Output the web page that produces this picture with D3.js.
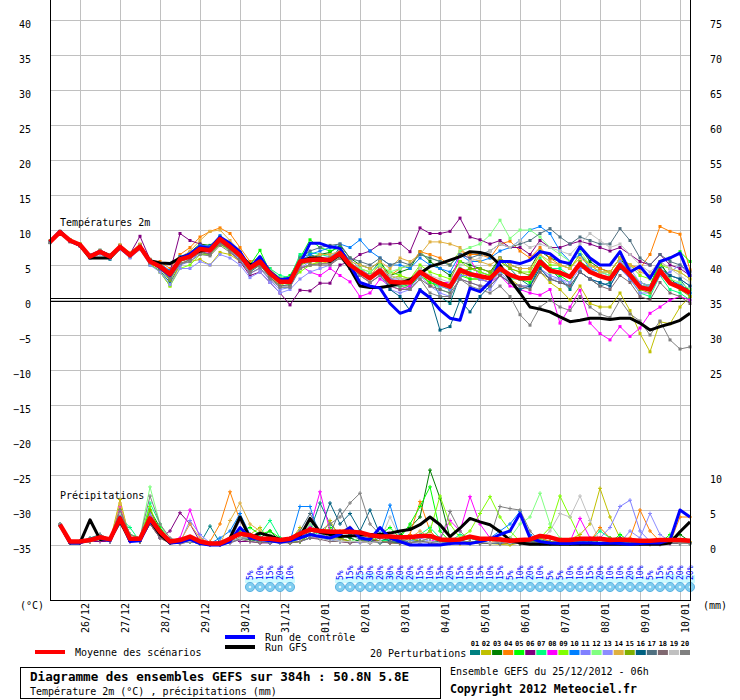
<!DOCTYPE html>
<html>
<head>
<meta charset="utf-8">
<script src="https://cdn.jsdelivr.net/npm/d3@7"></script>
<style>
  body { margin: 0; background: #fff; }
  svg text { font-family: "DejaVu Sans Mono", monospace; }
</style>
</head>
<body>
<div id="chart"></div>
<script>
// time steps every 6h from 25/12 06h to +384h (65 steps), precip starts at step 1
const dates = ['26/12','27/12','28/12','29/12','30/12','31/12','01/01','02/01','03/01','04/01','05/01','06/01','07/01','08/01','09/01','10/01'];
const dateSteps = [3,7,11,15,19,23,27,31,35,39,43,47,51,55,59,63];

const leftTicks = [40,35,30,25,20,15,10,5,0,-5,-10,-15,-20,-25,-30,-35];
const rightTempTicks = [40,35,30,25,20,15,10,5,0,-5,-10];
const rightLabels = ['75','70','65','60','55','50','45','40','35','30','25'];
const precipTicks = [10,5,0];

const pertNames = ['01','02','03','04','05','06','07','08','09','10','11','12','13','14','15','16','17','18','19','20'];
const pertColors = ['#008080','#c0c000','#008000','#ff8000','#00ff00','#800080','#00ff80','#ff00ff','#80ff00','#0080ff',
                    '#8080ff','#80ff80','#8c8cff','#e0b040','#80b000','#006080','#507080','#806870','#c0c0c0','#808080'];

// temperature 2m (°C)
const meanTemp = [8.3,9.7,8.5,7.9,6.2,6.9,6.2,7.6,6.4,7.6,
  5.5,4.8,3.7,5.8,6.2,7.3,7.1,8.7,7.6,6.4,
  4.6,5.5,3.8,2.6,2.6,5.5,5.7,5.8,5.7,6.7,
  5.0,4.0,3.1,4.2,2.6,2.5,2.5,4.0,3.1,2.4,
  1.9,4.3,3.7,3.4,3.1,4.5,3.6,3.1,3.1,5.5,
  4.2,3.9,3.3,5.2,4.0,3.4,3.0,5.0,3.6,1.8,
  1.5,4.2,2.4,1.8,1.0];
const ctrlTemp = [8.3,9.8,8.4,7.8,6.3,7.0,6.3,7.5,6.3,7.7,
  5.6,4.6,3.5,5.9,6.6,7.6,7.4,9.0,8.1,6.9,
  4.6,6.2,4.0,2.9,3.1,5.2,8.1,8.1,7.6,7.4,
  5.0,2.5,2.0,1.7,-0.5,-1.9,-1.4,1.4,0.3,-1.4,
  -2.6,-2.9,1.7,1.2,2.6,5.5,5.5,5.2,5.7,6.9,
  6.6,5.5,5.2,7.6,6.0,5.0,5.0,6.9,4.0,4.8,
  3.1,5.5,6.0,6.7,3.3];
const gfsTemp = [8.3,9.8,8.5,7.8,6.0,6.0,6.0,7.5,6.5,7.6,
  5.6,5.3,5.2,6.0,6.5,7.0,7.2,8.8,7.8,6.5,
  5.0,5.5,4.0,2.8,2.5,5.5,6.0,6.0,5.5,6.5,
  4.5,2.0,1.8,1.8,2.0,2.4,2.9,3.8,4.8,5.2,
  5.7,6.2,6.9,6.8,6.4,5.0,2.9,1.0,-1.0,-1.3,
  -1.7,-2.4,-3.1,-2.9,-2.6,-2.6,-2.8,-2.6,-2.6,-3.3,
  -4.3,-3.8,-3.4,-2.9,-1.9];

const t01 = [8.3,9.6,8.4,7.7,6.0,6.6,5.8,7.3,6.1,7.5, 5.0,4.2,2.5,5.0,5.8,7.0,6.5,8.4,7.2,6.0, 4.0,5.0,3.2,2.0,2.2,6.2,6.5,6.0,5.8,7.5, 5.5,3.5,3.8,5.5,3.0,2.5,1.8,3.8,3.5,0.5, -0.5,3.5,4.5,4.0,3.5,6.0,4.5,3.0,2.0,5.0, 4.5,3.0,1.5,4.0,3.0,2.0,2.5,5.5,4.0,2.0, 2.0,5.0,3.5,3.0,1.0];
const t02 = [8.2,9.5,8.3,7.8,6.3,7.0,6.4,7.8,6.6,7.9, 5.2,4.0,2.0,5.2,5.5,5.8,5.0,6.8,6.5,5.5, 4.2,5.0,3.5,2.0,2.8,4.5,5.0,5.2,5.5,6.0, 4.8,4.5,3.5,4.0,3.0,3.5,3.0,4.5,2.0,2.5, 2.0,4.0,3.0,3.0,2.5,4.5,3.0,2.0,2.0,4.0, 2.5,1.5,0.0,2.0,-0.5,-1.0,-1.0,1.0,-1.5,-4.8, -7.4,-3.1,-3.4,-1.0,0.5];
const t03 = [8.4,9.8,8.6,8.0,6.4,7.1,6.5,7.8,6.7,7.9, 5.8,5.0,3.0,5.9,6.8,8.0,7.8,9.0,7.5,6.3, 4.5,5.2,3.5,2.5,2.4,5.0,6.0,6.5,6.8,7.8, 6.0,5.0,4.5,5.5,3.5,4.0,4.5,6.9,5.5,4.5, 3.5,5.5,5.0,4.5,4.0,6.0,5.0,4.5,4.5,7.0, 6.0,5.5,5.0,7.5,5.5,4.5,4.0,6.0,4.0,2.5, 2.0,5.5,3.0,2.0,1.5];
const t04 = [8.3,9.7,8.5,7.9,6.3,7.0,6.3,7.7,6.5,7.8, 5.6,5.5,4.5,6.5,7.5,9.0,9.8,10.3,9.5,7.5, 5.5,6.0,4.5,3.0,3.0,4.5,5.0,5.5,6.0,6.5, 5.5,4.0,3.5,5.0,3.5,4.5,5.0,6.9,6.5,6.0, 5.0,7.0,6.5,6.5,6.0,8.0,8.4,7.0,6.0,7.5, 6.0,5.0,4.5,6.5,5.0,4.5,4.0,6.0,5.0,4.5, 6.5,10.5,9.8,9.4,4.3];
const t05 = [8.3,9.7,8.4,7.8,6.2,6.8,6.2,7.5,6.3,7.6, 5.3,4.5,3.0,5.5,6.0,7.0,7.0,8.5,7.5,6.5, 5.0,7.1,4.0,3.0,3.5,6.0,8.6,7.5,7.0,7.5, 5.5,4.0,3.5,4.0,2.5,2.0,2.0,3.5,2.5,2.0, 1.5,3.5,3.0,3.0,2.5,4.0,3.5,3.0,2.5,5.0, 4.0,3.5,2.5,5.5,4.5,3.5,3.0,5.0,4.0,2.5, 2.0,5.5,6.0,6.9,5.5];
const t06 = [8.3,9.8,8.5,7.9,6.2,6.9,6.2,7.8,6.6,9.1, 5.8,5.0,4.0,9.5,8.5,8.0,7.5,8.5,7.0,5.5, 3.5,4.0,2.5,1.0,-0.7,1.4,1.3,2.4,2.4,5.0, 5.5,6.5,7.0,8.0,8.0,8.1,6.9,10.3,9.5,9.5, 9.8,11.7,9.0,8.6,8.0,8.5,7.5,7.5,6.5,8.5, 7.5,7.5,8.0,8.4,8.0,7.5,7.0,7.5,6.5,5.5, 5.0,6.5,5.0,4.5,3.5];
const t07 = [8.4,9.6,8.5,7.9,6.3,7.0,6.2,7.4,6.3,7.6, 5.4,5.0,4.0,6.0,6.2,7.5,7.4,8.9,7.8,6.8, 5.0,5.8,4.5,3.5,3.2,6.5,6.8,6.5,6.2,7.0, 5.2,4.2,3.0,4.5,2.0,2.0,2.5,4.5,3.0,1.5, 1.0,4.5,4.0,3.5,3.0,4.5,3.0,3.0,3.5,6.0, 4.5,4.5,3.5,5.0,4.0,3.5,3.0,5.5,3.0,1.0, 0.5,3.5,1.5,1.0,0.0];
const t08 = [8.3,9.7,8.5,7.8,6.2,6.9,6.3,7.6,6.4,7.6, 5.5,4.8,3.5,5.5,6.0,7.0,6.8,8.5,7.5,6.5, 4.5,5.5,4.0,2.8,2.5,5.0,4.0,3.5,4.5,3.5, 2.6,0.5,1.0,3.0,2.0,1.5,2.0,4.0,3.0,2.5, 2.5,6.5,6.0,3.0,2.5,3.5,2.0,1.5,1.0,0.7, 1.5,-3.3,-1.0,1.4,-3.3,-4.8,-5.7,-3.8,-5.2,-4.0, -1.9,-1.0,0.0,0.5,0.0];
const t09 = [8.3,9.7,8.6,8.0,6.2,6.8,6.1,7.4,6.2,7.4, 5.2,4.0,2.0,4.5,5.0,6.5,6.5,8.0,7.0,6.0, 4.5,5.0,3.5,2.5,2.5,4.0,5.0,5.5,5.5,6.5, 5.0,4.5,4.0,5.0,4.0,3.5,3.0,5.0,4.0,3.5, 3.0,5.5,4.5,4.0,3.5,5.5,4.5,4.0,4.0,6.5, 5.0,5.0,4.5,6.5,5.0,4.0,4.0,6.0,5.0,3.5, 3.0,5.0,4.5,4.0,3.0];
const t10 = [8.3,9.7,8.5,7.9,6.4,7.1,6.4,7.7,6.6,7.7, 5.6,5.2,4.2,6.2,6.8,7.8,7.7,9.2,8.0,6.8, 4.8,5.5,4.0,3.0,3.0,5.5,6.5,7.0,7.5,8.0, 7.5,8.6,7.0,6.0,5.0,5.0,4.5,6.0,5.0,4.5, 4.0,6.5,5.5,5.5,6.0,7.0,7.5,8.5,10.0,10.5, 9.5,7.0,5.5,6.5,4.5,4.0,3.5,5.0,3.0,2.0, 1.5,4.0,2.5,2.4,1.0];
const t11 = [8.3,9.6,8.4,7.8,6.1,6.7,6.0,7.5,6.3,7.5, 5.3,4.6,3.2,5.0,5.5,6.8,6.5,8.2,7.0,5.8, 3.8,4.5,2.8,1.5,1.8,4.5,5.5,6.0,6.2,7.2, 5.8,4.5,3.5,4.5,3.0,3.0,2.5,4.0,3.0,2.0, 1.5,3.5,3.5,3.0,2.5,4.0,2.5,2.0,2.0,4.5, 3.5,3.0,2.0,4.0,3.0,2.5,2.0,4.5,3.0,1.0, 1.0,3.5,4.0,5.0,3.5];
const t12 = [8.3,9.7,8.5,7.9,6.2,6.9,6.2,7.6,6.4,7.6, 5.4,4.7,3.6,5.7,6.2,7.3,7.2,8.6,7.7,6.6, 4.8,5.8,4.2,3.2,3.0,5.5,5.8,6.0,5.8,6.5, 5.2,4.5,4.0,5.0,4.0,4.5,5.0,6.5,6.0,5.5, 5.0,7.0,7.5,8.0,9.3,11.4,8.8,10.0,10.0,9.0, 7.5,6.5,5.5,7.0,5.0,4.0,3.5,5.5,4.0,2.5, 2.0,4.5,3.0,2.5,1.5];
const t13 = [8.2,9.5,8.3,7.7,6.0,6.6,5.9,7.2,6.0,7.2, 5.0,4.0,2.2,4.5,4.5,5.5,5.0,6.5,6.0,5.0, 3.2,4.0,2.5,1.0,1.5,3.0,4.0,4.5,5.0,6.5, 4.5,4.0,2.5,3.5,1.5,1.0,1.5,3.5,2.0,1.0, 0.5,3.0,2.5,2.0,1.5,3.5,2.5,2.0,2.0,4.5, 3.0,3.0,2.5,4.5,4.5,3.5,3.0,5.5,4.5,2.5, 2.0,4.0,3.5,3.0,2.0];
const t14 = [8.4,9.8,8.6,8.0,6.4,7.1,6.5,7.9,6.8,8.0, 5.8,5.2,4.0,6.0,7.0,8.5,9.8,10.0,8.5,7.0, 5.0,5.5,4.0,3.0,3.2,5.5,6.0,6.5,6.5,7.0, 5.5,5.0,4.5,5.5,4.5,6.0,5.5,6.5,8.3,8.3, 8.0,7.5,6.0,5.5,5.0,6.0,5.0,4.5,4.5,6.5, 5.5,5.0,4.5,6.0,5.0,4.0,4.0,6.0,5.0,4.0, 3.5,5.5,4.5,4.0,3.0];
const t15 = [8.3,9.7,8.5,7.8,6.2,6.9,6.2,7.6,6.5,7.7, 5.4,4.5,2.8,5.5,6.0,6.8,6.5,8.0,7.2,6.0, 4.5,5.0,3.5,2.5,2.2,5.0,5.5,5.8,6.0,6.5, 5.0,4.0,3.5,4.5,3.5,3.0,3.0,4.5,3.0,2.5, 2.0,4.0,4.5,4.5,4.0,5.5,4.5,4.0,3.5,5.5, 4.5,4.0,3.5,5.5,4.0,3.5,3.0,4.5,3.5,1.5, 1.0,4.0,2.5,1.5,0.5];
const t16 = [8.3,9.7,8.5,7.9,6.2,6.9,6.2,7.6,6.4,7.6, 5.5,4.8,3.7,5.8,6.2,7.3,7.1,8.7,7.6,6.4, 4.6,5.5,3.8,2.6,2.6,5.5,5.7,5.8,5.7,6.7, 5.0,4.0,3.5,4.5,1.5,0.5,-1.5,1.5,0.5,-4.3, -3.8,0.0,-1.7,0.5,2.0,3.5,2.5,1.5,2.0,4.5, 3.0,2.5,2.0,4.0,3.0,2.5,2.0,4.5,3.5,2.0, 1.5,4.5,3.5,3.0,2.0];
const t17 = [8.3,9.7,8.5,7.9,6.2,6.9,6.2,7.6,6.4,7.6, 5.6,5.0,4.0,6.0,6.5,7.5,7.3,9.0,8.0,6.8, 4.8,5.5,4.0,3.0,3.0,6.0,7.0,7.5,7.8,8.0, 6.0,5.5,5.0,6.0,5.0,5.5,5.0,6.5,6.0,5.5, 5.0,6.5,6.0,6.5,7.0,8.0,7.5,8.0,8.5,9.5, 10.2,9.0,8.0,9.0,8.5,8.0,8.0,10.2,8.5,6.0, 5.0,6.5,5.5,5.0,4.0];
const t18 = [8.3,9.6,8.4,7.8,6.1,6.8,6.1,7.5,6.3,7.5, 5.3,4.5,3.2,5.2,5.8,6.8,6.6,8.2,7.2,6.0, 4.2,5.0,3.2,2.0,2.0,4.5,5.0,5.0,5.0,6.0, 4.5,3.5,2.5,3.5,2.0,1.5,1.5,3.0,2.0,1.5, 1.0,3.0,2.5,2.0,2.0,3.5,2.5,2.0,1.5,4.0, 3.0,2.5,2.0,4.0,3.0,2.0,1.5,3.5,2.5,0.5, 0.0,2.5,1.0,0.5,-0.5];
const t19 = [8.3,9.7,8.5,7.9,6.2,6.9,6.2,7.6,6.4,7.6, 5.5,4.8,3.7,5.8,6.2,7.3,7.1,8.7,7.6,6.4, 4.8,5.5,4.0,2.8,2.8,5.5,5.8,6.0,5.8,6.5, 5.0,4.0,3.5,4.5,3.5,3.0,3.0,4.5,3.5,3.0, 2.5,5.0,5.5,6.0,7.0,8.0,7.5,8.5,7.5,8.0, 7.5,7.0,6.5,8.0,9.5,8.5,7.5,8.0,6.5,5.0, 4.0,5.5,4.5,3.5,2.5];
const t20 = [8.2,9.6,8.4,7.8,6.1,6.8,6.1,7.5,6.3,7.5, 5.3,4.4,3.0,5.2,5.5,6.5,6.3,7.8,6.8,5.6, 3.8,4.6,3.0,1.8,1.8,4.5,5.0,5.2,5.2,6.0, 4.5,3.5,2.5,3.5,2.0,2.0,1.5,3.0,1.0,0.5, 0.5,3.0,2.0,1.5,1.0,2.0,0.5,-2.1,-3.6,-1.0, 0.0,-1.0,-1.5,0.5,-1.0,-2.0,-2.5,0.0,-2.0,-3.0, -5.0,-3.0,-5.7,-7.0,-6.7];

// precipitation (mm / 6h), steps 1..64
const meanRain = [2.9,0.5,0.5,0.7,1.1,0.8,3.8,0.9,0.9,3.8, 1.9,0.5,0.7,1.2,0.5,0.2,0.2,0.9,1.6,1.4, 0.9,0.9,0.7,0.9,1.6,2.2,2.0,1.9,1.9,1.9, 1.8,1.4,1.2,1.2,1.1,1.1,1.3,1.3,0.8,0.7, 0.8,1.2,0.9,0.9,0.8,0.6,0.7,0.8,1.3,1.1, 0.7,0.7,0.9,0.9,0.9,0.7,0.8,0.7,0.6,0.6, 0.7,0.7,0.7,0.6];
const ctrlRain = [2.9,0.3,0.3,0.8,1.0,0.6,4.0,0.5,0.6,3.5, 2.0,0.3,0.4,0.8,0.2,0.0,0.0,0.5,2.5,1.0, 0.8,0.6,0.4,0.6,1.0,1.5,1.2,1.0,1.5,2.5, 1.0,0.8,2.5,1.0,0.5,0.0,0.0,0.0,0.0,0.2, 0.3,0.2,0.5,0.8,1.5,2.0,4.5,1.0,0.5,0.3, 0.2,0.2,0.3,0.3,0.2,0.3,0.2,0.1,0.2,0.3, 0.3,0.7,5.0,4.0];
const gfsRain = [2.9,0.3,0.3,3.6,0.8,0.9,3.5,0.6,0.8,3.5, 1.5,0.3,0.5,1.0,0.3,0.1,0.1,1.0,4.0,1.0, 1.7,1.3,0.8,0.7,1.2,3.8,1.8,1.5,1.2,1.3, 1.4,1.5,1.5,1.7,2.0,2.2,2.9,4.0,2.9,1.2, 2.4,3.8,3.3,2.9,1.9,0.7,0.3,0.1,0.1,0.1, 0.1,0.1,0.1,0.1,0.1,0.1,0.1,0.1,0.1,0.1, 0.1,0.3,1.9,3.3];

const r01 = [3.0,0.3,0.5,1.0,1.5,0.8,4.0,1.0,0.8,4.5, 2.0,0.5,0.5,1.0,0.2,2.7,0.3,0.5,1.0,0.8, 0.5,0.5,0.3,0.5,1.0,2.0,6.0,3.0,1.5,1.0, 0.5,0.5,1.0,0.5,0.3,0.5,1.0,2.0,0.5,0.3, 0.5,1.0,0.5,0.3,0.3,0.2,0.5,0.3,1.0,0.5, 0.3,0.2,0.5,0.3,0.2,0.5,1.0,0.5,0.3,0.2, 0.3,0.5,0.3,0.2];
const r02 = [2.8,0.3,0.3,0.8,1.0,0.5,6.5,0.8,0.5,3.0, 1.0,0.3,0.3,0.5,0.2,0.0,0.0,0.5,1.0,1.5, 2.5,0.5,0.3,0.5,2.5,1.5,1.0,3.5,1.0,0.5, 0.5,0.3,0.5,0.3,0.2,0.3,0.5,1.0,0.5,0.3, 0.2,0.5,0.3,0.2,0.1,0.0,0.3,0.5,0.3,0.2, 0.5,0.8,1.5,3.0,8.1,4.0,1.0,0.5,0.3,0.2, 0.1,0.2,0.3,0.5];
const r03 = [2.9,0.3,0.5,0.5,0.8,0.5,5.0,1.5,1.0,5.0, 2.5,0.5,0.5,1.0,0.3,0.0,0.0,0.5,1.5,1.5, 1.0,2.0,0.5,0.5,1.0,2.5,1.5,1.0,1.5,1.0, 0.5,1.0,0.5,1.0,1.5,2.5,4.0,10.7,6.7,1.0, 0.5,0.3,0.5,0.3,0.2,0.3,0.2,0.5,0.3,0.2, 0.3,0.2,0.5,0.3,0.5,0.3,1.0,0.5,0.3,0.2, 0.2,0.3,1.5,0.5];
const r04 = [3.0,0.3,0.3,0.5,1.0,0.5,3.5,0.5,0.5,3.0, 1.0,0.3,0.2,0.5,0.3,0.5,3.0,7.6,3.5,1.0, 0.5,0.3,0.5,0.3,0.5,1.0,1.5,1.0,2.0,2.5, 1.5,1.0,0.5,0.5,1.0,1.5,6.2,2.0,0.5,0.3, 0.2,0.3,0.5,0.3,0.2,0.3,0.5,0.8,1.0,0.5, 0.3,0.5,0.3,0.5,2.5,1.0,0.5,1.0,5.0,2.0, 0.5,0.3,4.0,4.0];
const r05 = [2.9,0.3,0.3,0.8,1.0,0.6,4.5,1.0,0.8,4.0, 2.5,0.5,0.3,1.0,0.5,0.3,0.0,0.5,2.0,2.5, 1.5,2.0,1.0,0.5,0.5,1.5,1.0,2.5,1.0,0.5, 0.5,0.3,1.5,2.5,1.0,3.0,5.5,8.3,2.0,0.5, 0.3,0.5,0.3,1.0,0.5,0.3,0.2,0.5,0.8,0.3, 0.2,0.5,0.3,0.2,0.5,0.3,1.5,0.5,0.3,0.5, 0.3,1.5,0.5,0.3];
const r06 = [3.0,0.3,0.3,0.5,0.5,0.5,3.5,0.5,0.5,3.5, 1.0,2.0,4.6,3.0,0.5,0.3,0.5,1.0,0.5,0.5, 0.3,0.3,0.5,0.3,0.5,1.0,1.0,0.8,0.5,0.3, 0.5,0.8,0.5,0.3,0.5,1.0,0.5,0.3,0.3,0.5, 0.3,0.5,0.3,0.2,0.3,1.0,0.5,0.3,0.2,0.3, 0.5,0.3,0.2,0.3,0.5,0.3,0.2,0.3,0.5,0.3, 0.2,0.3,0.3,0.3];
const r07 = [2.7,0.3,0.3,0.5,1.0,1.0,4.0,2.5,0.5,6.0, 3.0,0.5,0.3,0.5,0.2,0.1,0.1,0.5,1.0,1.0, 1.5,3.5,1.0,0.5,0.5,1.0,2.0,1.5,0.8,0.5, 0.5,0.3,0.5,0.8,1.0,0.5,1.5,2.5,1.0,0.5, 1.5,1.0,0.5,0.3,0.5,0.3,0.5,0.3,0.3,0.2, 0.5,0.3,0.3,0.5,2.0,1.0,0.5,0.3,0.2,0.3, 0.5,1.0,0.5,0.3];
const r08 = [3.0,0.3,0.3,0.5,1.0,0.5,5.5,1.0,0.8,4.5, 2.0,0.5,1.0,5.0,1.0,0.2,0.2,0.5,1.0,1.0, 0.5,0.5,0.5,1.0,1.0,2.5,7.6,2.0,1.0,0.5, 0.5,0.3,0.5,0.3,0.5,0.3,0.5,0.5,1.0,3.5, 2.0,6.9,3.0,1.0,0.5,0.3,0.2,0.5,0.3,0.2, 0.3,0.5,3.8,1.0,0.5,0.3,0.2,0.3,0.2,0.1, 0.1,0.2,0.3,0.2];
const r09 = [3.0,0.3,0.3,0.5,0.8,0.5,4.0,1.5,1.0,5.5, 1.5,0.5,0.5,1.0,0.3,0.0,0.0,0.5,1.0,0.8, 0.5,0.5,0.3,0.5,0.5,1.5,1.0,0.8,1.0,0.5, 0.5,0.5,0.3,0.5,0.5,0.3,1.0,2.0,7.0,3.0, 1.0,2.0,4.5,6.9,4.0,2.0,0.5,0.3,1.0,2.5, 7.0,4.0,1.0,0.5,0.3,0.2,0.5,0.3,0.2,0.1, 0.2,0.3,0.5,0.3];
const r10 = [3.0,0.3,0.3,0.5,1.0,0.5,3.5,1.0,0.8,3.5, 1.5,0.5,0.3,0.5,0.3,0.2,1.0,2.0,4.5,1.5, 1.0,0.5,0.5,0.5,5.5,5.5,1.0,0.8,0.5,0.5, 0.5,0.8,1.5,5.7,1.0,0.5,0.3,0.5,0.3,0.2, 0.3,0.2,0.5,1.0,2.0,3.0,4.8,1.5,0.5,0.3, 0.2,0.3,0.5,0.3,0.2,0.5,1.0,0.5,0.3,0.2, 0.3,0.5,0.3,0.2];
const r11 = [2.8,0.3,0.5,0.8,1.0,0.5,4.5,1.0,0.5,4.5, 2.0,0.5,0.3,3.5,1.5,0.3,0.0,0.5,3.5,1.5, 1.0,0.5,0.3,0.5,1.0,3.0,1.5,1.0,0.8,0.5, 0.5,0.3,0.5,0.3,0.5,0.5,0.3,0.5,0.3,0.2, 0.3,0.5,0.3,0.2,0.3,0.5,0.3,0.2,0.5,0.3, 0.5,0.3,0.5,0.8,1.0,2.5,5.5,6.4,2.0,0.5, 0.3,0.2,0.3,0.5];
const r12 = [3.0,0.3,0.3,0.5,1.0,0.8,4.0,1.5,1.0,8.3, 3.0,0.5,0.5,1.0,0.3,0.0,0.0,1.0,1.5,1.0, 0.5,1.5,0.5,0.3,1.0,3.0,1.5,1.0,0.5,0.5, 1.0,0.5,0.3,0.5,0.3,0.5,0.5,1.0,0.5,0.3, 0.5,0.3,0.5,0.3,0.5,1.0,3.0,4.0,7.4,3.0, 1.0,0.5,0.3,0.2,0.3,0.5,0.3,0.2,0.3,0.2, 0.3,0.5,0.3,0.2];
const r13 = [2.9,0.3,0.3,0.5,0.8,0.5,3.0,0.8,0.5,3.0, 1.0,0.3,0.2,0.5,0.2,0.0,0.0,0.3,0.8,1.0, 0.5,0.3,0.5,0.3,0.5,1.0,1.5,1.0,0.5,0.5, 0.3,0.5,0.3,0.5,0.3,0.5,1.0,0.5,0.3,0.2, 0.3,0.2,0.5,0.3,0.2,0.5,0.3,1.0,0.5,0.3, 0.5,0.3,0.2,0.5,1.0,0.5,0.3,2.0,1.0,4.5, 1.5,0.5,0.3,0.5];
const r14 = [2.8,0.3,0.3,0.8,1.0,0.5,6.0,1.0,0.5,3.5, 1.5,0.3,0.5,3.0,1.0,0.3,0.0,3.5,6.0,3.0, 2.0,1.0,0.5,0.5,1.0,3.5,2.0,1.0,0.8,0.5, 0.5,0.3,0.5,0.5,0.3,1.0,2.0,1.0,0.5,0.3, 0.5,0.3,0.2,0.3,1.0,0.5,0.3,0.2,0.5,0.3, 0.2,0.5,0.3,0.5,0.3,0.2,0.3,0.5,0.3,0.2, 0.3,0.5,0.3,0.5];
const r15 = [2.9,0.3,0.5,0.5,1.0,0.8,5.0,1.0,0.5,5.0, 2.0,0.3,0.5,0.5,0.3,0.0,0.0,0.5,1.0,0.8, 0.5,0.8,0.5,0.3,0.5,1.5,2.0,1.5,1.0,0.5, 0.5,1.0,0.5,0.3,0.5,1.0,0.5,0.3,0.5,0.3, 0.3,0.5,0.3,0.2,0.5,0.3,0.2,0.5,0.3,0.5, 0.3,0.5,0.3,0.2,0.5,1.0,0.5,0.3,0.2,0.3, 0.2,0.5,0.3,0.2];
const r16 = [2.9,0.3,0.5,0.8,1.0,0.5,3.5,1.0,0.8,4.0, 1.5,0.5,0.3,0.5,0.3,0.2,0.0,0.5,1.0,0.8, 0.5,0.5,0.3,0.5,1.0,1.5,2.0,6.0,3.0,4.5, 2.0,5.0,1.5,0.5,0.3,0.5,0.5,0.3,0.5,0.3, 0.5,0.3,0.2,0.3,0.5,0.3,0.2,0.3,0.5,0.3, 0.2,0.3,0.5,0.3,0.2,0.3,0.5,0.3,0.2,0.3, 0.5,0.3,0.2,0.3];
const r17 = [2.8,0.3,0.3,0.5,1.0,0.5,3.0,0.8,0.5,3.5, 1.5,0.3,0.3,0.5,0.2,0.0,0.0,0.5,1.0,1.0, 0.5,0.3,0.5,1.0,2.0,4.5,2.0,1.5,5.0,1.5, 0.8,0.5,0.3,0.5,0.8,0.5,0.3,0.5,0.3,0.5, 0.3,0.2,0.5,0.3,0.2,0.5,0.3,0.5,0.3,0.2, 0.5,0.3,0.2,0.5,0.3,0.5,0.3,0.5,0.3,0.2, 0.3,0.5,0.3,0.2];
const r18 = [2.9,0.3,0.3,0.5,0.8,0.5,3.5,0.8,0.5,3.0, 1.0,0.3,0.2,0.5,0.2,0.0,0.0,0.3,0.8,0.5, 0.3,0.5,0.3,0.3,0.5,1.0,0.8,0.5,0.5,0.3, 0.5,0.3,0.5,0.3,0.2,0.3,0.5,0.3,0.2,0.3, 0.5,0.3,0.2,0.3,0.5,0.3,0.2,0.3,0.2,0.3, 0.5,0.3,0.2,0.3,0.2,0.3,0.5,0.3,0.2,0.3, 0.2,0.3,0.2,0.3];
const r19 = [3.0,0.3,0.3,0.5,1.0,0.5,4.5,1.0,0.8,4.0, 1.5,0.5,0.3,0.5,0.3,0.0,0.0,0.5,1.0,1.0, 0.5,0.5,0.3,0.5,0.8,1.5,1.0,0.8,0.5,0.5, 0.5,0.3,0.5,4.0,1.0,0.5,0.3,0.5,0.3,0.2, 0.5,0.3,0.5,0.3,0.5,0.3,0.5,1.0,0.5,2.0, 4.5,4.0,7.0,3.5,0.5,0.3,0.2,0.5,0.3,0.2, 0.3,0.5,0.3,0.2];
const r20 = [3.0,0.3,0.3,0.8,1.5,0.8,5.0,1.5,1.0,7.0, 3.0,1.0,0.5,1.0,0.5,0.2,0.0,0.5,1.5,1.0, 0.5,0.8,0.5,0.5,1.0,1.5,2.0,3.0,4.0,6.0, 7.4,3.0,1.5,1.0,0.5,0.3,0.5,1.0,0.5,4.8, 2.0,0.5,0.3,1.0,5.5,5.2,5.0,2.0,0.5,0.3, 0.5,0.3,0.5,0.3,0.2,0.5,0.3,0.2,0.3,0.2, 0.3,0.5,0.3,0.2];

// snow probability (%) per step, null where none
const snowPct = [null,null,null,null,null,null,null,null,null,null,
  null,null,null,null,null,null,null,null,null,null,
  5,10,15,20,10,null,null,null,null,5,
  15,25,30,20,30,20,20,15,10,15,
  20,15,10,15,10,15,5,10,20,10,
  5,5,10,10,15,20,10,10,20,10,
  5,15,25,20,20];

const pertTemps = [t01,t02,t03,t04,t05,t06,t07,t08,t09,t10,t11,t12,t13,t14,t15,t16,t17,t18,t19,t20];
const pertRains = [r01,r02,r03,r04,r05,r06,r07,r08,r09,r10,r11,r12,r13,r14,r15,r16,r17,r18,r19,r20];

const W = 740, H = 700;
const svg = d3.select('#chart').append('svg')
    .attr('width', W).attr('height', H)
    .style('display', 'block');

const x = d3.scaleLinear().domain([0, 64]).range([50, 690]);
const yT = d3.scaleLinear().domain([-35, 40]).range([545, 20]);
const yP = d3.scaleLinear().domain([0, 10]).range([545, 475]);

// grid
const grid = svg.append('g').attr('shape-rendering', 'crispEdges');
grid.selectAll('line.h').data(leftTicks).join('line').attr('class', 'h')
    .attr('x1', 50).attr('x2', 690)
    .attr('y1', d => yT(d) + 0.5).attr('y2', d => yT(d) + 0.5)
    .attr('stroke', '#c0c0c0');
grid.selectAll('line.v').data(dateSteps).join('line').attr('class', 'v')
    .attr('x1', d => x(d) + 0.5).attr('x2', d => x(d) + 0.5)
    .attr('y1', 0).attr('y2', 600)
    .attr('stroke', '#c0c0c0');

// zero line (double)
[-1.5, 1.5].forEach(o => {
  grid.append('line').attr('x1', 50).attr('x2', 690)
    .attr('y1', yT(0) + o).attr('y2', yT(0) + o)
    .attr('stroke', '#000');
});

// snow probability strip
const snowData = snowPct.map((p, i) => ({ i, p })).filter(d => d.p !== null);
const snow = svg.append('g');
snow.selectAll('rect').data(snowData).join('rect')
    .attr('x', d => x(d.i) - 5).attr('width', 10)
    .attr('y', d => 583 - (4 + d.p / 5)).attr('height', d => 4 + d.p / 5)
    .attr('fill', '#ccfaff');
snow.selectAll('circle').data(snowData).join('circle')
    .attr('cx', d => x(d.i)).attr('cy', 587).attr('r', 4.6)
    .attr('fill', '#80cef0').attr('stroke', '#4aa6da').attr('stroke-width', 0.8);
snow.selectAll('circle.c').data(snowData).join('circle').attr('class', 'c')
    .attr('cx', d => x(d.i)).attr('cy', 587).attr('r', 1.3)
    .attr('fill', '#e6f8ff');
snow.selectAll('text').data(snowData).join('text')
    .attr('transform', d => `translate(${x(d.i) + 2.5},580) rotate(-90)`)
    .attr('font-size', 8).attr('fill', '#0000ff')
    .text(d => d.p + '%');

// curves
const tLine = d3.line().x((d, i) => x(i)).y(d => yT(d));
const pLine = d3.line().x((d, i) => x(i + 1)).y(d => yP(d));

const perts = svg.append('g');
pertTemps.forEach((arr, k) => {
  perts.append('path').datum(arr).attr('d', tLine)
    .attr('fill', 'none').attr('stroke', pertColors[k]).attr('stroke-width', 1);
  perts.append('g').selectAll('rect').data(arr).join('rect')
    .attr('x', (d, i) => x(i) - 1.5).attr('y', d => yT(d) - 1.5)
    .attr('width', 3).attr('height', 3).attr('fill', pertColors[k]);
});
pertRains.forEach((arr, k) => {
  perts.append('path').datum(arr).attr('d', pLine)
    .attr('fill', 'none').attr('stroke', pertColors[k]).attr('stroke-width', 1);
  perts.append('g').selectAll('path').data(arr).join('path')
    .attr('d', (d, i) => `M${x(i + 1) - 2},${yP(d)}h4M${x(i + 1)},${yP(d) - 2}v4`)
    .attr('stroke', pertColors[k]).attr('stroke-width', 1);
});

const main = [
  { t: gfsTemp, r: gfsRain, color: '#000000', w: 3 },
  { t: ctrlTemp, r: ctrlRain, color: '#0000ff', w: 3 },
  { t: meanTemp, r: meanRain, color: '#ff0000', w: 4.5 }
];
main.forEach(m => {
  svg.append('path').datum(m.t).attr('d', tLine)
    .attr('fill', 'none').attr('stroke', m.color).attr('stroke-width', m.w)
    .attr('stroke-linejoin', 'round');
  svg.append('path').datum(m.r).attr('d', pLine)
    .attr('fill', 'none').attr('stroke', m.color).attr('stroke-width', m.w)
    .attr('stroke-linejoin', 'round');
});

// frame
const frame = svg.append('g').attr('shape-rendering', 'crispEdges').attr('stroke', '#000');
frame.append('line').attr('x1', 50.5).attr('x2', 50.5).attr('y1', 0).attr('y2', 600.5);
frame.append('line').attr('x1', 690.5).attr('x2', 690.5).attr('y1', 0).attr('y2', 600.5);
frame.append('line').attr('x1', 50).attr('x2', 691).attr('y1', 600.5).attr('y2', 600.5);

// axes labels
const tickFont = g => g.call(s => s.select('.domain').remove())
    .attr('font-family', '"Liberation Sans", Arial, sans-serif').attr('font-size', 10)
    .selectAll('text').attr('dy', '0.72em').attr('fill', '#000');

svg.append('g').attr('transform', 'translate(50,0)')
    .call(d3.axisLeft(yT).tickValues(leftTicks).tickSize(0).tickPadding(19))
    .call(tickFont);
svg.append('g').attr('transform', 'translate(690,0)')
    .call(d3.axisRight(yT).tickValues(rightTempTicks).tickSize(0).tickPadding(20)
      .tickFormat((d, i) => rightLabels[i]))
    .call(tickFont);
svg.append('g').attr('transform', 'translate(690,0)')
    .call(d3.axisRight(yP).tickValues(precipTicks).tickSize(0).tickPadding(20))
    .call(tickFont);

const xAxis = svg.append('g').attr('transform', 'translate(0,600)')
    .call(d3.axisBottom(x).tickValues(dateSteps).tickSize(0)
      .tickFormat((d, i) => dates[i]));
xAxis.select('.domain').remove();
xAxis.attr('font-family', '"DejaVu Sans Mono", monospace').attr('font-size', 10);
xAxis.selectAll('text')
    .attr('x', 0).attr('y', 0).attr('dy', 0).attr('fill', '#000')
    .attr('text-anchor', 'end')
    .attr('transform', 'translate(8.5,3) rotate(-90)');

// annotations
const txt = (s, px, py, size, weight) => svg.append('text')
    .attr('x', px).attr('y', py).attr('font-size', size)
    .attr('font-weight', weight || 'normal').attr('fill', '#000').text(s);

txt('Températures 2m', 60, 226, 10);
txt('Précipitations', 60, 499, 10);
txt('(°C)', 20, 609, 10);
txt('(mm)', 703, 609, 10);

// legend
svg.append('line').attr('x1', 35).attr('x2', 65).attr('y1', 652).attr('y2', 652)
    .attr('stroke', '#ff0000').attr('stroke-width', 4);
txt('Moyenne des scénarios', 75, 656, 10);
svg.append('line').attr('x1', 225).attr('x2', 255).attr('y1', 637).attr('y2', 637)
    .attr('stroke', '#0000ff').attr('stroke-width', 4);
txt('Run de contrôle', 265, 641, 10);
svg.append('line').attr('x1', 225).attr('x2', 255).attr('y1', 647).attr('y2', 647)
    .attr('stroke', '#000').attr('stroke-width', 4);
txt('Run GFS', 265, 651, 10);

txt('20 Perturbations', 370, 657, 10);
const sw = d3.scaleBand().domain(pertNames).range([470, 690]).paddingInner(0.09);
const legend = svg.append('g');
legend.selectAll('rect').data(pertNames).join('rect')
    .attr('x', d => sw(d)).attr('y', 650).attr('width', sw.bandwidth()).attr('height', 5)
    .attr('fill', (d, i) => pertColors[i]);
legend.selectAll('text').data(pertNames).join('text')
    .attr('x', d => sw(d) + sw.bandwidth() / 2).attr('y', 646)
    .attr('text-anchor', 'middle').attr('font-size', 7).attr('font-weight', 'bold')
    .attr('fill', '#000').text(d => d);

// title box
svg.append('rect').attr('x', 20.5).attr('y', 667.5).attr('width', 420).attr('height', 31)
    .attr('fill', 'none').attr('stroke', '#000').attr('shape-rendering', 'crispEdges');
txt('Diagramme des ensembles GEFS sur 384h : 50.8N 5.8E', 30, 681, 12.6, 'bold');
txt('Température 2m (°C) , précipitations (mm)', 30, 695, 10);
txt('Ensemble GEFS du 25/12/2012 - 06h', 450, 675, 10);
txt('Copyright 2012 Meteociel.fr', 450, 693, 11.5, 'bold');
</script>
</body>
</html>
